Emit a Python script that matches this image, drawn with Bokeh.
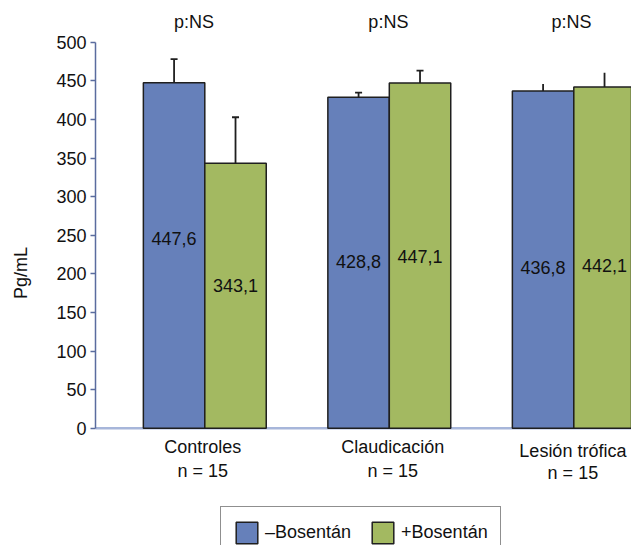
from bokeh.plotting import figure
from bokeh.models import Range1d, FixedTicker, Legend, LegendItem
from bokeh.core.properties import value
from bokeh.embed import file_html
from bokeh.resources import INLINE

# ---- data ----
categories = ["Controles", "Claudicación", "Lesión trófica"]
n_values = [15, 15, 15]
sin_bosentan = [447.6, 428.8, 436.8]
con_bosentan = [343.1, 447.1, 442.1]
sd_sin = [30.4, 6.0, 9.2]
sd_con = [59.7, 16.2, 18.3]
p_labels = ["p:NS", "p:NS", "p:NS"]
y_ticks = [0, 50, 100, 150, 200, 250, 300, 350, 400, 450, 500]
series_names = ["–Bosentán", "+Bosentán"]

# ---- layout / style constants ----
FONT = "Liberation Sans"
BLUE = "#6680BA"
GREEN = "#A3B961"
BAR_W = 0.333
val_label_y_sin = [245.7, 216.0, 208.5]
val_label_y_con = [184.8, 222.4, 210.8]
pns_dx = [-0.058, -0.005, -0.012]
pns_y = 526
cat_dx = [-0.011, 0.019, -0.005]
cat_y1 = [-24.6, -24.6, -29.0]
cat_y2 = [-54.8, -54.8, -57.5]
cap_half = [0.019, 0.019, 0.0]

centers = [i + 1 for i in range(len(categories))]
x_sin = [c - BAR_W / 2 for c in centers]
x_con = [c + BAR_W / 2 for c in centers]

fmt = lambda v: f"{v:.1f}".replace(".", ",")

x0, x1 = 0.4076, 3.3127
p = figure(width=631, height=545, output_backend="svg", toolbar_location=None,
           x_range=Range1d(x0, x1), y_range=Range1d(-151.9, 554.0),
           x_axis_location=None, min_border_left=95, min_border_right=0,
           min_border_top=0, min_border_bottom=0)
p.outline_line_color = None
p.grid.visible = False

ax = p.yaxis[0]
ax.bounds = (0, 500)
ax.ticker = FixedTicker(ticks=y_ticks)
ax.minor_tick_line_color = None
ax.major_tick_in = 0
ax.major_tick_out = 5
ax.axis_line_color = "#5a6c9e"
ax.axis_line_width = 1.5
ax.major_tick_line_color = "#5a6c9e"
ax.major_tick_line_width = 1.5
ax.major_label_text_font = FONT
ax.major_label_text_font_size = "18px"
ax.major_label_text_color = "#111111"
ax.major_label_standoff = 4
ax.axis_label = "Pg/mL"
ax.axis_label_text_font = FONT
ax.axis_label_text_font_size = "18px"
ax.axis_label_text_font_style = "normal"
ax.axis_label_text_color = "#111111"
ax.axis_label_standoff = 22

# x axis line
p.segment(x0=[x0], y0=[0], x1=[x1], y1=[0], line_color="#a7b6da", line_width=2.5)

r_sin = p.vbar(x=x_sin, top=sin_bosentan, bottom=0, width=BAR_W, fill_color=BLUE,
               line_color="#1f1f1f", line_width=1.5)
r_con = p.vbar(x=x_con, top=con_bosentan, bottom=0, width=BAR_W, fill_color=GREEN,
               line_color="#1f1f1f", line_width=1.5)

# error bars (upper only)
for xs, tops, sds in ((x_sin, sin_bosentan, sd_sin), (x_con, con_bosentan, sd_con)):
    ends = [t + s for t, s in zip(tops, sds)]
    p.segment(x0=xs, y0=tops, x1=xs, y1=ends, line_color="#1f1f1f", line_width=1.8)
    p.segment(x0=[x - h for x, h in zip(xs, cap_half)], y0=ends,
              x1=[x + h for x, h in zip(xs, cap_half)], y1=ends,
              line_color="#1f1f1f", line_width=1.8)

# value labels
p.text(x=x_sin, y=val_label_y_sin, text=[fmt(v) for v in sin_bosentan],
       text_align="center", text_baseline="middle", text_font=value(FONT),
       text_font_size="18px", text_color="#111111")
p.text(x=x_con, y=val_label_y_con, text=[fmt(v) for v in con_bosentan],
       text_align="center", text_baseline="middle", text_font=value(FONT),
       text_font_size="18px", text_color="#111111")

# p:NS
p.text(x=[c + d for c, d in zip(centers, pns_dx)], y=[pns_y] * len(centers), text=p_labels,
       text_align="center", text_baseline="middle", text_font=value(FONT),
       text_font_size="18px", text_color="#111111")

# category labels
p.text(x=[c + d for c, d in zip(centers, cat_dx)], y=cat_y1, text=categories,
       text_align="center", text_baseline="middle", text_font=value(FONT),
       text_font_size="18px", text_color="#111111")
p.text(x=[c + d for c, d in zip(centers, cat_dx)], y=cat_y2,
       text=[f"n = {n}" for n in n_values],
       text_align="center", text_baseline="middle", text_font=value(FONT),
       text_font_size="18px", text_color="#111111")

legend = Legend(items=[LegendItem(label=series_names[0], renderers=[r_sin]),
                       LegendItem(label=series_names[1], renderers=[r_con])],
                orientation="horizontal", location=(125, -14))
legend.label_text_font = FONT
legend.label_text_font_size = "18px"
legend.label_text_color = "#111111"
legend.glyph_width = 27
legend.glyph_height = 27
legend.label_height = 27
legend.label_standoff = 5
legend.spacing = 18
legend.padding = 12
legend.margin = 0
legend.border_line_color = "#1f1f1f"
legend.border_line_width = 1.5
legend.background_fill_alpha = 1
p.add_layout(legend, "center")

open("out.html", "w").write(file_html(p, INLINE))
